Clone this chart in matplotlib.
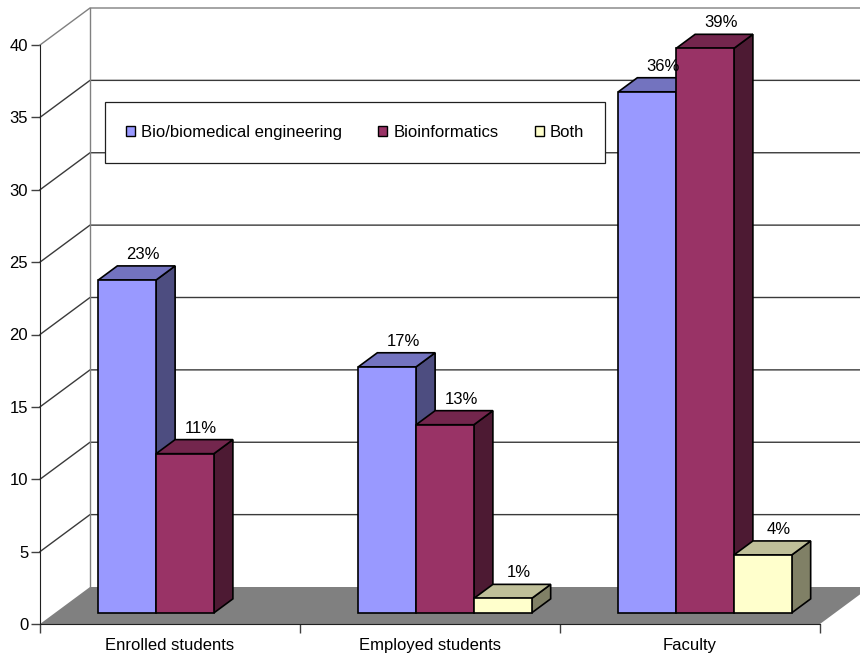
import numpy as np
import matplotlib.pyplot as plt
from matplotlib.patches import Polygon, Patch, Rectangle

plt.rcParams['font.family'] = ['Liberation Sans', 'DejaVu Sans']

categories = ["Enrolled students", "Employed students", "Faculty"]
series_names = ["Bio/biomedical engineering", "Bioinformatics", "Both"]
bio_eng = [23, 17, 36]
bioinformatics = [11, 13, 39]
both = [np.nan, 1, 4]
series_values = [bio_eng, bioinformatics, both]
y_ticks = [0, 5, 10, 15, 20, 25, 30, 35, 40]

front_colors = ["#9999FF", "#993366", "#FFFFCC"]


def shade(hex_color, f):
    c = np.array([int(hex_color[i:i + 2], 16) for i in (1, 3, 5)]) / 255.0
    return tuple(c * f)


W, H = 860, 657
fig = plt.figure(figsize=(W / 100, H / 100), dpi=100)
# plot area: x in category units, y in value units
ax = fig.add_axes([40 / W, 33 / H, 780 / W, 579 / H])
ax.set_xlim(0, 3)
ax.set_ylim(0, 40)

px_x = 780 / 3.0          # pixels per category
px_y = 579 / 40.0         # pixels per value unit
DX = 50 / px_x            # depth shift, category units
DY = 37 / px_y            # depth shift, value units


def proj(x, v, z):
    return (x + DX * z, v + DY * z)


# floor
floor = Polygon([proj(0, 0, 0), proj(3, 0, 0), proj(3, 0, 1), proj(0, 0, 1)],
                closed=True, facecolor="#808080", edgecolor="none",
                clip_on=False, zorder=1)
ax.add_patch(floor)

# gridlines on side and back walls
for v in y_ticks[1:]:
    pts = [proj(0, v, 0), proj(0, v, 1), proj(3.3, v, 1)]
    xs, ys = zip(*pts)
    col = "#808080" if v == 40 else "#3a3a3a"
    ax.plot(xs, ys, color=col, lw=1.0, clip_on=False, zorder=2)
xs, ys = zip(proj(0, 0, 1), proj(0, 40, 1))
ax.plot(xs, ys, color="#808080", lw=1.0, clip_on=False, zorder=2)

# bars
Z0, Z1 = 0.3, 0.68
bw = 1 / 4.5
for ci in range(len(categories)):
    for si, vals in enumerate(series_values):
        v = vals[ci]
        if np.isnan(v):
            continue
        x0 = ci + 0.5 - 1.5 * bw + si * bw
        x1 = x0 + bw
        fc = front_colors[si]
        side = [proj(x1, 0, Z0), proj(x1, 0, Z1), proj(x1, v, Z1), proj(x1, v, Z0)]
        top = [proj(x0, v, Z0), proj(x1, v, Z0), proj(x1, v, Z1), proj(x0, v, Z1)]
        front = [proj(x0, 0, Z0), proj(x1, 0, Z0), proj(x1, v, Z0), proj(x0, v, Z0)]
        for poly, f in ((side, 0.5), (top, 0.75), (front, 1.0)):
            ax.add_patch(Polygon(poly, closed=True, facecolor=shade(fc, f),
                                 edgecolor="black", lw=1.2, joinstyle="miter",
                                 clip_on=False, zorder=3))
        lx, ly = proj((x0 + x1) / 2, v, 0.62)
        ly = v + DY * Z1 + 7 / px_y
        ax.text(lx, ly, f"{v:g}%", ha="center", va="baseline",
                fontsize=12, zorder=6)

# axes styling
for s in ("top", "right"):
    ax.spines[s].set_visible(False)
ax.spines["left"].set_color("#202020")
ax.spines["bottom"].set_color("#202020")
ax.spines["left"].set_zorder(2.5)
ax.spines["bottom"].set_zorder(2.5)
ax.set_yticks(y_ticks)
ax.tick_params(axis="y", direction="out", length=6.5, width=1, pad=2,
               labelsize=12, color="#404040")
ax.set_xticks([0, 1, 2, 3])
ax.set_xticklabels([])
ax.tick_params(axis="x", which="major", direction="out", length=6.5, width=1,
               color="#404040")
ax.set_xticks([0.5, 1.5, 2.5], minor=True)
ax.set_xticklabels(categories, minor=True)
ax.tick_params(axis="x", which="minor", length=0, pad=10, labelsize=12)
ax.patch.set_visible(False)

# legend box
box = Rectangle((105 / W, 1 - 163 / H), 500 / W, 61 / H,
                transform=fig.transFigure, facecolor="white",
                edgecolor="#202020", lw=0.9, clip_on=False, zorder=4.5)
ax.add_patch(box)
handles = [Patch(facecolor=c, edgecolor="black", lw=1) for c in front_colors]
leg = ax.legend(handles, series_names, ncol=3, frameon=False, loc="center",
                bbox_to_anchor=(355 / W, 1 - 132.5 / H),
                bbox_transform=fig.transFigure, fontsize=12,
                handlelength=0.55, handleheight=0.55, handletextpad=0.35,
                columnspacing=2.2)
leg.set_zorder(5)

fig.savefig("out.png", dpi=100)
